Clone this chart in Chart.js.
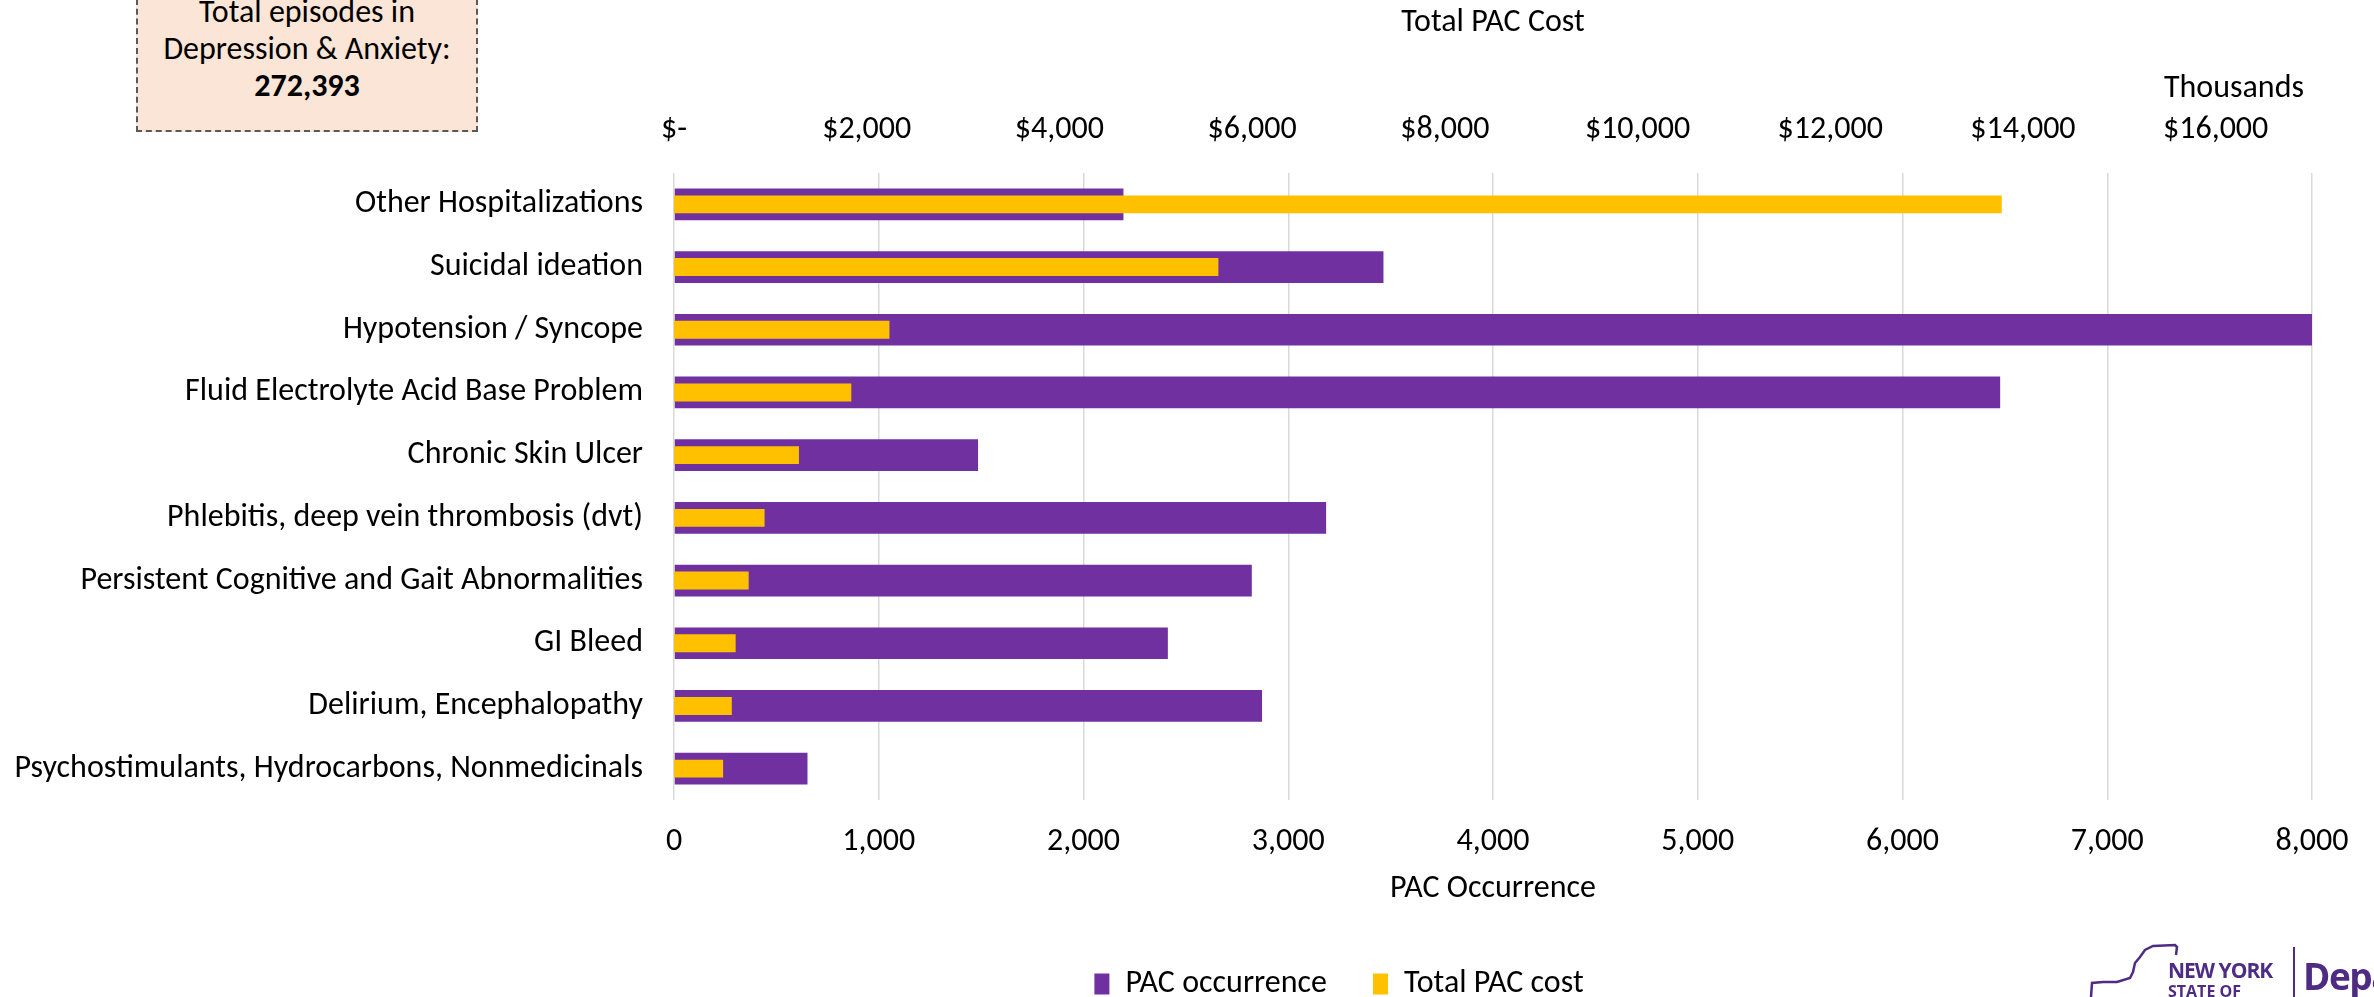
<!DOCTYPE html>
<html>
<head>
<meta charset="utf-8">
<script src="https://cdn.jsdelivr.net/npm/chart.js@4.4.1/dist/chart.umd.min.js"></script>
<style>
  html, body { margin: 0; padding: 0; background: #fff; overflow: hidden; }
  #wrap { position: relative; width: 2374px; height: 1010px; }
  #pacChart { position: absolute; left: 0; top: 0; }
  .note-box {
    position: absolute; left: 136px; top: -40px; width: 342px; height: 172px;
    box-sizing: border-box; background: #fbe5d6; border: 2px dashed #595959;
    font-family: Carlito, Lato, sans-serif; font-size: 32px; line-height: 37px;
    color: #000; text-align: center; padding-top: 31px;
  }
  .logo { position: absolute; left: 2080px; top: 940px; width: 400px; height: 80px; color: #4f2c83; }
  .logo svg { position: absolute; left: 0; top: 0; }
  .logo .ny1 { position: absolute; left: 88px; top: 16px; font: bold 21px "Open Sans", sans-serif; letter-spacing: -1px; }
  .logo .ny2 { position: absolute; left: 88px; top: 40px; font: bold 16px "Open Sans", sans-serif; }
  .logo .sep { position: absolute; left: 213px; top: 7px; width: 2px; height: 70px; background: #4f2c83; }
  .logo .dept { position: absolute; left: 223px; top: 10px; font: bold 37px "Open Sans", sans-serif; letter-spacing: -1.5px; white-space: nowrap; }
</style>
</head>
<body>
<div id="wrap">
  <canvas id="pacChart" width="2374" height="1010"></canvas>
  <div class="note-box">Total episodes in<br>Depression &amp; Anxiety:<br><b>272,393</b></div>
  <div class="logo">
    <svg width="100" height="60">
      <polyline points="11,57 12,43 23,42 37,42 50,38 53,32 55,23 60,17 65,10 73,6 95,5 97,7 96,15"
        fill="none" stroke="#4f2c83" stroke-width="2.5" />
    </svg>
    <div class="ny1">NEW YORK</div>
    <div class="ny2">STATE OF</div>
    <div class="sep"></div>
    <div class="dept">Department of Health</div>
  </div>
</div>
<script>
const categories = [
  "Other Hospitalizations",
  "Suicidal ideation",
  "Hypotension / Syncope",
  "Fluid Electrolyte Acid Base Problem",
  "Chronic Skin Ulcer",
  "Phlebitis, deep vein thrombosis (dvt)",
  "Persistent Cognitive and Gait Abnormalities",
  "GI Bleed",
  "Delirium, Encephalopathy",
  "Psychostimulants, Hydrocarbons, Nonmedicinals",
];

// PAC occurrence (count)
const pacOccurrence = [2195, 3465, 8004, 6477, 1485, 3185, 2822, 2412, 2872, 652];

// Total PAC cost, in thousands of dollars
const totalPacCost = [13780, 5650, 2236, 1840, 1297, 940, 775, 640, 600, 510];

const occurrenceTicks = [0, 1000, 2000, 3000, 4000, 5000, 6000, 7000, 8000];
const costTicks = [0, 2000, 4000, 6000, 8000, 10000, 12000, 14000, 16000];

const FONT = "Carlito, Lato, sans-serif";
const baseFont = { family: FONT, size: 32 };

function fmtNum(v) {
  return Number(v).toLocaleString("en-US");
}

// "Thousands" display-unit label over the top axis
const thousandsLabel = {
  id: "thousandsLabel",
  afterDraw(chart) {
    const ctx = chart.ctx;
    ctx.save();
    ctx.font = "32px " + FONT;
    ctx.fillStyle = "#000";
    ctx.textAlign = "right";
    ctx.textBaseline = "middle";
    ctx.fillText("Thousands", chart.chartArea.right - 8, 89);
    ctx.restore();
  },
};

// the legend sits a bit right of the page centre in the original
const legendShift = {
  id: "legendShift",
  afterLayout(chart) {
    if (!chart.legend) return;
    chart.legend.left += 183;
    chart.legend.right += 183;
  },
};

new Chart(document.getElementById("pacChart"), {
  type: "bar",
  data: {
    labels: categories,
    datasets: [
      {
        label: "PAC occurrence",
        data: pacOccurrence,
        backgroundColor: "#7030a0",
        xAxisID: "x",
        grouped: false,
        categoryPercentage: 1,
        barPercentage: 0.506,
        order: 2,
      },
      {
        label: "Total PAC cost",
        data: totalPacCost,
        backgroundColor: "#ffc000",
        xAxisID: "x2",
        grouped: false,
        categoryPercentage: 1,
        barPercentage: 0.286,
        order: 1,
      },
    ],
  },
  options: {
    indexAxis: "y",
    responsive: false,
    animation: false,
    layout: { padding: { left: 0, right: 62, top: 0, bottom: 0 } },
    plugins: {
      tooltip: { enabled: false },
      legend: {
        position: "bottom",
        labels: {
          font: baseFont,
          color: "#000",
          boxWidth: 15,
          boxHeight: 21,
          padding: 46,
          sort: (a, b) => a.datasetIndex - b.datasetIndex,
        },
      },
    },
    scales: {
      y: {
        type: "category",
        position: "left",
        grid: { display: false, drawTicks: false },
        border: { display: false },
        ticks: { font: baseFont, color: "#000", padding: 31 },
        afterFit: (scale) => {
          scale.width = 674;
        },
      },
      x: {
        type: "linear",
        position: "bottom",
        min: 0,
        max: 8000,
        grid: { color: "#d9d9d9", lineWidth: 1.5, drawTicks: false },
        border: { display: false },
        afterBuildTicks: (scale) => {
          scale.ticks = occurrenceTicks.map((v) => ({ value: v }));
        },
        ticks: {
          font: baseFont,
          color: "#000",
          padding: 23,
          callback: (v) => fmtNum(v),
        },
        title: {
          display: true,
          text: "PAC Occurrence",
          font: baseFont,
          color: "#000",
          padding: { top: 0, bottom: 14 },
        },
        afterFit: (scale) => {
          scale.height = 122;
          scale.paddingLeft = 0;
          scale.paddingRight = 0;
        },
      },
      x2: {
        type: "linear",
        position: "top",
        min: 0,
        max: 17000,
        grid: { display: false, drawTicks: false },
        border: { display: false },
        afterBuildTicks: (scale) => {
          scale.ticks = costTicks.map((v) => ({ value: v }));
        },
        ticks: {
          font: baseFont,
          color: "#000",
          padding: 24,
          callback: (v) => (v === 0 ? "$-" : "$" + fmtNum(v)),
        },
        title: {
          display: true,
          text: "Total PAC Cost",
          font: baseFont,
          color: "#000",
          padding: { top: 4, bottom: 0 },
        },
        afterFit: (scale) => {
          scale.height = 173;
          scale.paddingLeft = 0;
          scale.paddingRight = 0;
        },
      },
    },
  },
  plugins: [thousandsLabel, legendShift],
});
</script>
</body>
</html>
